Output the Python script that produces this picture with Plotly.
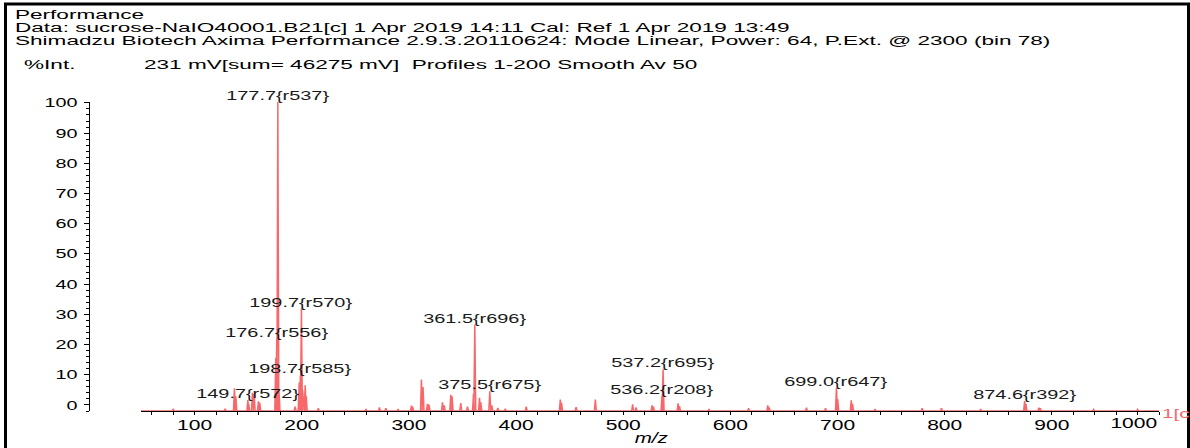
import json
import plotly.graph_objects as go

# ---------------- data (%Int. vs m/z) ----------------
peak_mz = [80.0, 128.5, 137.2, 138.5, 149.7, 150.5, 154.0, 155.6, 159.6, 160.8,
           175.8, 176.7, 177.7, 178.8, 193.8, 197.6, 198.7, 199.7, 200.8, 203.2,
           204.2, 215.5, 260.0, 272.5, 278.5, 290.0, 302.4, 303.5, 311.7, 313.2,
           317.3, 318.8, 331.3, 333.0, 339.1, 340.3, 348.4, 354.7, 360.3, 361.5,
           365.9, 367.1, 375.5, 377.4, 383.0, 390.0, 409.5, 441.3, 442.5, 456.0,
           474.0, 508.8, 512.0, 526.9, 528.2, 536.2, 537.2, 551.2, 552.5, 580.0,
           617.0, 634.9, 636.2, 671.0, 688.8, 699.0, 700.2, 712.8, 714.0, 735.0,
           779.0, 797.0, 833.5, 874.6, 875.8, 887.9, 889.2, 939.0, 980.0]
peak_int = [-1.5, -1.3, 5.5, 2.9, 1.6, 0.4, 4.0, 3.7, 1.2, 0.8,
            15.6, 22.0, 100.3, 4.4, -0.6, 7.4, 9.8, 31.9, 5.0, 6.5,
            2.9, -1.1, -1.4, -0.8, -1.1, -1.4, -0.2, -0.6, 8.4, 5.9,
            0.4, 0.1, 0.9, -0.1, 3.4, 2.9, 0.6, -0.6, 3.7, 26.6,
            2.4, 0.9, 4.5, -0.1, -1.0, -1.3, -0.6, 1.8, 0.7, -0.7,
            1.8, 0.2, -0.8, -0.1, -0.6, 3.1, 11.8, 0.5, -0.4, -1.4,
            -1.1, -0.1, -0.8, -0.9, -1.1, 5.7, 1.9, 1.5, 0.4, -1.4,
            -1.1, -1.1, -1.4, 1.3, 0.4, -0.9, -1.1, -1.5, -1.5]
baseline_int = -2.0        # level of the profile between peaks

label_mz = [149.7, 176.7, 177.7, 198.7, 199.7, 361.5, 375.5, 536.2, 537.2, 699.0, 874.6]
label_tag = ["r572", "r556", "r537", "r585", "r570", "r696", "r675", "r208", "r695", "r647", "r392"]

x_tick_vals = [100, 200, 300, 400, 500, 600, 700, 800, 900, 1000]
y_tick_vals = [0, 10, 20, 30, 40, 50, 60, 70, 80, 90, 100]

header_lines = [
    "Performance",
    "Data: sucrose-NaIO40001.B21[c] 1 Apr 2019 14:11 Cal: Ref 1 Apr 2019 13:49",
    "Shimadzu Biotech Axima Performance 2.9.3.20110624: Mode Linear, Power: 64, P.Ext. @ 2300 (bin 78)",
]
acq_info = "231 mV[sum= 46275 mV]  Profiles 1-200 Smooth Av 50"
y_title = "%Int."
x_title = "m/z"
trace_tag = "1[c"

# ---------------- styling / geometry ----------------
W, H = 1190, 448
PL, PR, PT, PB = 89, 1159, 102, 411      # plot-area pixel box
X_AXIS_START = 141                       # pixel where the m/z axis begins
RED = "rgb(248,104,106)"
FONT = "Liberation Sans"
HALF_WIDTH = 0.9                         # drawn half-width of each profile peak (m/z)
K_HEAD, K_PLOT, K_XT, K_YT = 1.88, 1.53, 1.5, 1.52   # horizontal text stretch factors


def px_x(p):
    return (p - PL) / (PR - PL)


def px_y(p):
    return (PB - p) / (PB - PT)


# profile line built from the peak list
xs, ys = [50.0], [baseline_int]
for m, v in zip(peak_mz, peak_int):
    xs += [m - HALF_WIDTH, m, m + HALF_WIDTH]
    ys += [baseline_int, v, baseline_int]
xs.append(1000.0)
ys.append(baseline_int)

fig = go.Figure()
fig.add_trace(go.Scatter(x=xs, y=ys, mode="lines",
                         line=dict(color=RED, width=1.5), hoverinfo="skip"))

annotations, stretch = [], []


def add_ann(k, **kw):
    annotations.append(dict(showarrow=False, **kw))
    stretch.append(k)


# peak labels
for m, tag in zip(label_mz, label_tag):
    h = peak_int[peak_mz.index(m)]
    add_ann(K_PLOT, x=m, y=h, xref="x", yref="y", text=f"{m:.1f}{{{tag}}}",
            xanchor="center", yanchor="middle", align="center", yshift=6.5,
            font=dict(family=FONT, size=13, color="#1a1a1a"))

# header lines
for i, line in enumerate(header_lines):
    add_ann(K_HEAD, x=px_x(12.5), y=px_y(14.5 + 13.5 * i), xref="paper", yref="paper",
            text=line, xanchor="left", yanchor="middle", align="left",
            font=dict(family=FONT, size=12, color="black"))
add_ann(K_HEAD, x=px_x(22), y=px_y(65), xref="paper", yref="paper", text=y_title,
        xanchor="left", yanchor="middle", align="left",
        font=dict(family=FONT, size=12, color="black"))
add_ann(K_HEAD, x=px_x(142), y=px_y(65), xref="paper", yref="paper", text=acq_info,
        xanchor="left", yanchor="middle", align="left",
        font=dict(family=FONT, size=12, color="black"))
# x title
add_ann(1.47, x=px_x(651.5), y=px_y(437.5), xref="paper", yref="paper",
        text=f"<i>{x_title}</i>", xanchor="center", yanchor="middle", align="center",
        font=dict(family=FONT, size=14, color="black"))
# last tick label, right-aligned at the axis end
add_ann(K_XT, x=x_tick_vals[-1], y=px_y(423), xref="x", yref="paper",
        text=str(x_tick_vals[-1]), xanchor="right", yanchor="middle", align="right",
        font=dict(family=FONT, size=14, color="black"))
# trace tag at the right end of the axis
add_ann(1.6, x=px_x(1160), y=px_y(413), xref="paper", yref="paper",
        text=trace_tag, xanchor="left", yanchor="middle", align="left",
        font=dict(family=FONT, size=13, color=RED))

fig.update_layout(
    width=W, height=H,
    margin=dict(l=PL, r=W - PR, t=PT, b=H - PB, pad=0, autoexpand=False),
    plot_bgcolor="white", paper_bgcolor="white",
    showlegend=False,
    font=dict(family=FONT, color="black"),
    annotations=annotations,
    shapes=[dict(type="rect", xref="paper", yref="paper",
                 x0=px_x(5.5), x1=px_x(1188.5), y0=px_y(470), y1=px_y(4),
                 line=dict(color="black", width=3), layer="above")],
    xaxis=dict(
        domain=[px_x(X_AXIS_START), 1], range=[50, 1000],
        showline=True, linecolor="black", linewidth=1,
        showgrid=False, zeroline=False,
        tickmode="array", tickvals=x_tick_vals,
        ticktext=[str(v) for v in x_tick_vals[:-1]] + [""],
        ticks="outside", ticklen=3, tickcolor="black", tickwidth=1,
        ticklabelstandoff=-2,
        tickfont=dict(family=FONT, size=14, color="black"),
        minor=dict(tick0=0, dtick=20, ticks="outside", ticklen=3,
                   tickcolor="black", tickwidth=1),
        layer="below traces",
    ),
    yaxis=dict(
        range=[baseline_int, 100.3], anchor="free", position=0,
        showline=True, linecolor="black", linewidth=1,
        showgrid=False, zeroline=False,
        tickmode="array", tickvals=y_tick_vals,
        ticks="outside", ticklen=5, tickcolor="black", tickwidth=1,
        ticklabelstandoff=4,
        tickfont=dict(family=FONT, size=13, color="black"),
        minor=dict(tick0=0, dtick=2, ticks="outside", ticklen=3,
                   tickcolor="black", tickwidth=1),
    ),
)

# page without body margin; texts widened horizontally as in the reference print
post_js = """
(function(){
  document.documentElement.style.margin='0';
  document.body.style.margin='0';
  document.body.style.padding='0';
  document.body.style.overflow='hidden';
  var gd = document.getElementById('{plot_id}');
  if(!gd) return;
  function widen(el, k){
    if(!el || !(k>0) || k===1) return;
    var w = el.getComputedTextLength();
    if(w>0){
      el.setAttribute('lengthAdjust','spacingAndGlyphs');
      el.setAttribute('textLength', (w*k).toFixed(2));
    }
  }
  var annK = __ANNK__;
  gd.querySelectorAll('g.annotation').forEach(function(g){
    var i = parseInt(g.getAttribute('data-index'));
    widen(g.querySelector('text.annotation-text'), annK[i]);
  });
  gd.querySelectorAll('g.xtick text').forEach(function(t){ widen(t, __KX__); });
  gd.querySelectorAll('g.ytick text').forEach(function(t){ widen(t, __KY__); });
})();
""".replace("__ANNK__", json.dumps(stretch)).replace("__KX__", str(K_XT)).replace("__KY__", str(K_YT))

fig.write_html("out.html", post_script=post_js, config={"displayModeBar": False})
